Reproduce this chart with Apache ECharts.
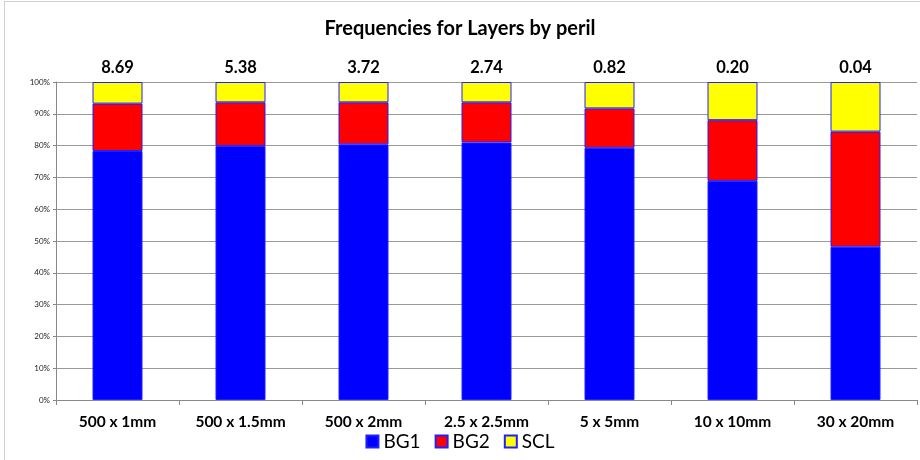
<!DOCTYPE html>
<html>
<head>
<meta charset="utf-8">
<script src="https://cdn.jsdelivr.net/npm/echarts@6/dist/echarts.min.js"></script>
<style>
html,body{margin:0;padding:0;background:#fff;}
#c{width:920px;height:460px;}
#frame{position:absolute;left:4px;top:1px;width:930px;height:470px;border:1px solid #d0d0d0;pointer-events:none;}
</style>
</head>
<body>
<div id="c"></div>
<div id="frame"></div>
<script>
const categories = ['500 x 1mm','500 x 1.5mm','500 x 2mm','2.5 x 2.5mm','5 x 5mm','10 x 10mm','30 x 20mm'];
const bg1 = [78.3, 79.9, 80.4, 81.0, 79.3, 68.9, 48.2];
const bg2 = [14.9, 13.7, 13.2, 12.6, 12.4, 19.1, 36.2];
const scl = [6.8, 6.4, 6.4, 6.4, 8.3, 12.0, 15.6];
const totals = ['8.69','5.38','3.72','2.74','0.82','0.20','0.04'];
const yTicks = [0,10,20,30,40,50,60,70,80,90,100];

const font = 'Lato, "Open Sans", sans-serif';
const chart = echarts.init(document.getElementById('c'));
const border = {borderColor:'#2020ff', borderWidth:1};
chart.setOption({
  animation:false,
  title:{text:'Frequencies for Layers by peril', left:'center', top:14,
    textStyle:{fontFamily:font, fontSize:20, fontWeight:'bold', color:'#000'}},
  grid:{left:56, right:3, top:82, bottom:60, containLabel:false},
  legend:{bottom:4, left:'center', itemWidth:12, itemHeight:12, itemGap:14,
    icon:'rect',
    textStyle:{fontFamily:font, fontSize:19, color:'#000', padding:[0,0,0,0]},
    data:['BG1','BG2','SCL']},
  xAxis:{type:'category', data:categories,
    axisLine:{lineStyle:{color:'#888'}},
    axisTick:{show:true, length:5, lineStyle:{color:'#888'}},
    axisLabel:{fontFamily:font, fontSize:15.5, fontWeight:'bold', color:'#000', margin:14}},
  yAxis:{type:'value', min:0, max:100, interval:10,
    axisLine:{show:true, lineStyle:{color:'#888'}},
    axisTick:{show:true, length:3, lineStyle:{color:'#888'}},
    splitLine:{lineStyle:{color:'#999', width:1}},
    axisLabel:{fontFamily:font, fontSize:8, color:'#222', margin:6,
      formatter:v=> yTicks.includes(v) ? v+'%' : ''}},
  series:[
    {name:'BG1', type:'bar', stack:'s', data:bg1, barWidth:50,
      itemStyle:Object.assign({color:'#0000ff'}, border)},
    {name:'BG2', type:'bar', stack:'s', data:bg2,
      itemStyle:Object.assign({color:'#ff0000'}, border)},
    {name:'SCL', type:'bar', stack:'s', data:scl,
      itemStyle:Object.assign({color:'#ffff00'}, border),
      label:{show:true, position:'top', distance:6,
        fontFamily:font, fontSize:16.5, fontWeight:'bold', color:'#000',
        formatter:p=>totals[p.dataIndex]}}
  ]
});
</script>
</body>
</html>
